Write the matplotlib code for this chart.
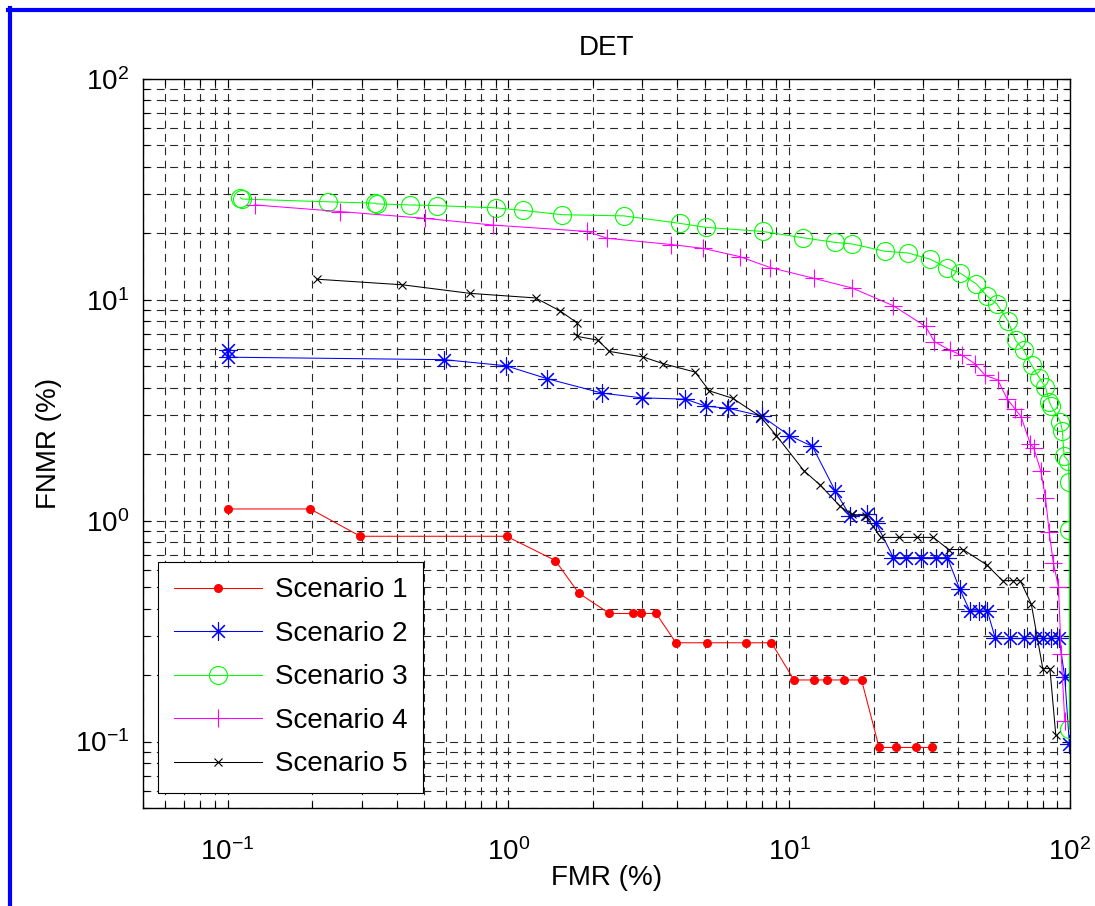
import numpy as np
import matplotlib
matplotlib.use("Agg")
import matplotlib.pyplot as plt
from matplotlib.lines import Line2D
from matplotlib.ticker import LogLocator, LogFormatterMathtext, NullFormatter

plt.rcParams["font.family"] = ["Liberation Sans", "DejaVu Sans"]
plt.rcParams["mathtext.fontset"] = "custom"
plt.rcParams["mathtext.rm"] = "Liberation Sans"
plt.rcParams["mathtext.it"] = "Liberation Sans"
plt.rcParams["mathtext.default"] = "regular"

# --- DET data (FMR %, FNMR %) ---
labels = ["Scenario 1", "Scenario 2", "Scenario 3", "Scenario 4", "Scenario 5"]

fmr1 = [0.1, 0.197, 0.297, 0.985, 1.47, 1.78, 2.29, 2.77, 2.97, 3.36, 3.95, 5.1, 7.0,
        8.65, 10.4, 12.3, 13.6, 15.7, 18.1, 20.9, 24.1, 28.2, 32.2]
fnmr1 = [1.13, 1.13, 0.85, 0.85, 0.66, 0.47, 0.38, 0.38, 0.38, 0.38, 0.28, 0.28, 0.28,
         0.28, 0.19, 0.19, 0.19, 0.19, 0.19, 0.094, 0.094, 0.094, 0.094]

fmr2 = [0.1, 0.1, 0.59, 0.98, 1.37, 2.16, 2.98, 4.27, 5.05, 6.05, 7.97, 10.0, 12.1,
        14.6, 16.5, 18.9, 20.4, 23.5, 26.0, 29.4, 33.2, 36.6, 40.5, 44.0, 47.3, 50.8,
        54.2, 61.3, 68.4, 75.0, 80.3, 85.5, 91.5, 95.8, 99.5]
fnmr2 = [5.9, 5.5, 5.36, 5.03, 4.4, 3.78, 3.6, 3.55, 3.3, 3.23, 2.98, 2.43, 2.17,
         1.36, 1.05, 1.07, 0.975, 0.68, 0.68, 0.68, 0.68, 0.68, 0.49, 0.39, 0.39, 0.39,
         0.293, 0.293, 0.293, 0.293, 0.293, 0.293, 0.293, 0.195, 0.0975]

fmr3 = [0.111, 0.113, 0.227, 0.335, 0.34, 0.446, 0.557, 0.9, 1.13, 1.55, 2.58, 4.08,
        5.04, 8.04, 11.2, 14.6, 16.8, 21.9, 26.5, 31.7, 36.4, 40.7, 46.4, 50.7, 55.0,
        60.2, 64.0, 68.5, 73.0, 77.8, 81.8, 84.4, 85.8, 92.5, 93.9, 95.3, 98.5, 99.2,
        99.4, 99.5]
fnmr3 = [29.0, 28.6, 27.8, 27.4, 27.2, 26.9, 26.7, 26.1, 25.4, 24.3, 24.0, 22.2,
         21.3, 20.4, 19.1, 18.2, 17.9, 16.6, 16.3, 15.3, 14.0, 13.2, 11.8, 10.4, 9.55,
         8.0, 6.55, 5.9, 5.06, 4.43, 4.02, 3.46, 3.3, 2.8, 2.55, 1.96, 1.87, 1.49,
         0.91, 0.114]

fmr4 = [0.125, 0.252, 0.503, 0.885, 1.91, 2.25, 3.81, 4.94, 6.66, 8.56, 12.3, 16.8,
        23.5, 30.6, 32.9, 37.5, 41.4, 46.0, 49.8, 55.3, 59.8, 63.8, 67.0, 72.2, 74.3,
        78.7, 81.8, 84.3, 87.2, 91.0, 93.0, 95.8]
fnmr4 = [26.9, 25.1, 23.4, 21.8, 20.4, 19.0, 17.8, 17.1, 15.7, 14.0, 12.5, 11.3,
         9.4, 7.58, 6.47, 5.9, 5.6, 5.12, 4.55, 4.34, 3.55, 3.2, 2.95, 2.23, 2.13,
         1.68, 1.27, 0.89, 0.645, 0.5, 0.25, 0.124]

fmr5 = [0.208, 0.419, 0.73, 1.25, 1.53, 1.76, 1.76, 2.08, 2.29, 3.02, 3.56, 4.62,
        5.2, 6.3, 7.9, 9.0, 11.3, 12.9, 15.2, 16.7, 18.7, 21.2, 24.7, 28.5, 32.6,
        37.0, 41.6, 50.6, 57.5, 62.5, 66.5, 72.8, 80.0, 84.8, 89.0]
fnmr5 = [12.4, 11.7, 10.7, 10.2, 8.9, 7.85, 6.83, 6.57, 5.84, 5.51, 5.14, 4.71,
         3.87, 3.58, 2.96, 2.43, 1.68, 1.45, 1.16, 1.07, 1.05, 0.84, 0.84, 0.84, 0.84,
         0.74, 0.74, 0.63, 0.535, 0.535, 0.535, 0.42, 0.214, 0.214, 0.107]

asterisk = (8, 2, 0)

fig = plt.figure(figsize=(10.95, 9.06), dpi=100)
ax = fig.add_axes([143 / 1095, 1 - 808 / 906, (1070 - 143) / 1095, (808 - 79) / 906])

lw = 0.75
ax.plot(fmr1, fnmr1, color="red", lw=lw, marker="o", ms=5.5, mfc="red", mec="red",
        label=labels[0])
ax.plot(fmr2, fnmr2, color="blue", lw=lw, marker=asterisk, ms=13, mew=0.8,
        label=labels[1])
ax.plot(fmr3, fnmr3, color=(0, 1, 0), lw=lw, marker="o", ms=13, mfc="none", mew=0.8,
        label=labels[2])
ax.plot(fmr4, fnmr4, color="magenta", lw=lw, marker="+", ms=13, mew=0.8,
        label=labels[3])
ax.plot(fmr5, fnmr5, color="black", lw=lw, marker="x", ms=5.5, mew=0.8,
        label=labels[4])

ax.set_xscale("log")
ax.set_yscale("log")
ax.set_xlim(0.05, 100)
ax.set_ylim(0.05, 100)

for axis in (ax.xaxis, ax.yaxis):
    axis.set_major_locator(LogLocator(base=10, numticks=10))
    axis.set_minor_locator(LogLocator(base=10, subs=np.arange(2, 10), numticks=20))
    axis.set_major_formatter(LogFormatterMathtext())
    axis.set_minor_formatter(NullFormatter())

ax.grid(True, which="both", color="0.15", lw=0.8, ls=(0, (7, 5)))
ax.set_axisbelow(True)
ax.tick_params(which="both", direction="in", top=True, right=True, width=0.8,
               labelsize=20, colors="black")
ax.tick_params(which="major", length=6)
ax.tick_params(which="minor", length=4)
ax.tick_params(axis="x", pad=22)
ax.tick_params(axis="y", pad=10)
for sp in ax.spines.values():
    sp.set_linewidth(1.0)

ax.set_title("DET", fontsize=20, pad=17)
ax.set_xlabel("FMR (%)", fontsize=20, labelpad=-1)
ax.set_ylabel("FNMR (%)", fontsize=20, labelpad=9)

leg = ax.legend(loc="lower left", fontsize=20, numpoints=1, handlelength=3.2,
                handletextpad=0.45, labelspacing=0.63, borderpad=0.55,
                borderaxespad=0.55, fancybox=False, framealpha=1, edgecolor="black")
leg.get_frame().set_linewidth(0.8)

# blue frame around the figure
fig.add_artist(Line2D([8 / 1095, 1], [1 - 10 / 906, 1 - 10 / 906], color="blue",
                      lw=3, transform=fig.transFigure))
fig.add_artist(Line2D([10 / 1095, 10 / 1095], [0, 1 - 8 / 906], color="blue",
                      lw=3, transform=fig.transFigure))

fig.savefig("out.png", dpi=100, facecolor="white")
